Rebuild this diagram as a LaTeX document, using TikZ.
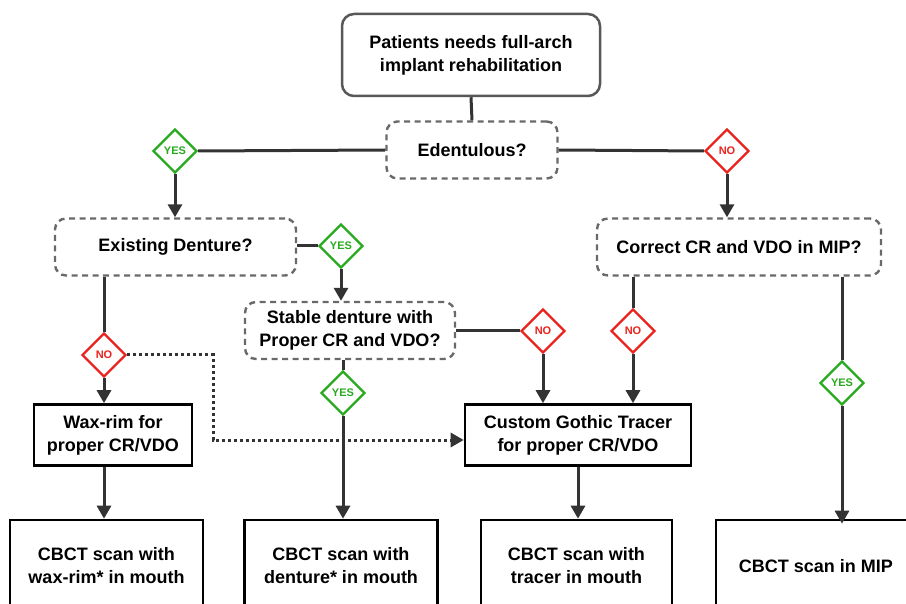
\documentclass[tikz,border=0pt]{standalone}
\usepackage{fontspec}
\setmainfont{Liberation Sans}
\usetikzlibrary{arrows.meta, shapes.geometric, positioning}
\definecolor{linegray}{RGB}{51,51,51}
\definecolor{boxgray}{RGB}{88,88,88}
\definecolor{dashgray}{RGB}{105,105,105}
\definecolor{yesgreen}{RGB}{40,170,30}
\definecolor{nored}{RGB}{235,35,30}

\begin{document}
\begin{tikzpicture}[x=1pt, y=-1pt,
  txt/.style={font=\bfseries\fontsize{18}{23}\selectfont, align=center},
  startbox/.style={txt, draw=boxgray, line width=2.5pt, rounded corners=12pt, minimum width=258pt, minimum height=82pt},
  question/.style={txt, draw=dashgray, line width=2.4pt, dash pattern=on 6pt off 4.5pt, rounded corners=11pt, minimum height=57pt},
  stepbox/.style={txt, draw=black, line width=2.6pt, minimum height=61pt},
  scanbox/.style={txt, draw=black, line width=2.6pt, minimum width=193pt, minimum height=92pt},
  choice/.style={diamond, aspect=1, inner sep=0pt, minimum width=44pt, minimum height=44pt, fill=white, line width=2.2pt, font=\bfseries\fontsize{11}{12}\selectfont},
  yes/.style={choice, draw=yesgreen, text=yesgreen},
  no/.style={choice, draw=nored, text=nored},
  link/.style={draw=linegray, line width=3pt},
  flow/.style={link, -{Triangle[length=13pt, width=14pt]}},
  shortcut/.style={flow, dash pattern=on 3pt off 3pt},
]
\clip (0,0) rectangle (906,604);

% Start and first question
\node[startbox] (start) at (471,55) {Patients needs full-arch\\implant rehabilitation};
\node[question, minimum width=171pt] (edent) at (472,150) {Edentulous?};

% Second level questions
\node[question, minimum width=241pt] (exist) at (175.5,247) {Existing Denture?};
\node[question, minimum width=284pt] (correct) at (739,247) {Correct CR and VDO in MIP?};
\node[question, minimum width=210pt] (stable) at (350,330.5) {Stable denture with\\Proper CR and VDO?};

% Records
\node[stepbox, minimum width=158pt] (waxrim) at (113,435) {Wax-rim for\\proper CR/VDO};
\node[stepbox, minimum width=226pt] (tracer) at (578,435) {Custom Gothic Tracer\\for proper CR/VDO};

% CBCT scans (bottom row)
\node[scanbox] (scanwax) at (106.5,566) {CBCT scan with\\wax-rim* in mouth};
\node[scanbox] (scandent) at (341,566) {CBCT scan with\\denture* in mouth};
\node[scanbox, minimum width=191pt] (scantrc) at (576.5,566) {CBCT scan with\\tracer in mouth};
\node[scanbox, minimum width=200pt] (scanmip) at (816,566) {CBCT scan in MIP};

% Decisions
\node[yes] (yesEd) at (175,151) {YES};
\node[no] (noEd) at (727,151) {NO};
\node[yes] (yesEx) at (341,246) {YES};
\node[no] (noEx) at (104,355) {NO};
\node[no] (noSt) at (543,331) {NO};
\node[no] (noCo) at (633,331) {NO};
\node[yes] (yesSt) at (343,393) {YES};
\node[yes] (yesCo) at (842,383) {YES};

% Connectors
\draw[link] (start.south) -- (edent.north);
\draw[link] (edent.west) -- (yesEd.east);
\draw[link] (edent.east) -- (noEd.west);
\draw[flow] (yesEd.south) -- (exist.north -| yesEd);
\draw[flow] (noEd.south) -- (correct.north -| noEd);

\draw[link] (exist.east |- yesEx) -- (yesEx.west);
\draw[flow] (yesEx.south) -- (stable.north -| yesEx);
\draw[link] (exist.south -| noEx) -- (noEx.north);
\draw[flow] (noEx.south) -- (waxrim.north -| noEx);
\draw[shortcut] (noEx.east) -- (213,355) -- (213,440) -- (tracer.west |- 0,440);

\draw[link] (stable.east |- noSt) -- (noSt.west);
\draw[flow] (noSt.south) -- (tracer.north -| noSt);
\draw[link] (stable.south -| yesSt) -- (yesSt.north);
\draw[flow] (yesSt.south) -- (scandent.north -| yesSt);

\draw[link] (correct.south -| noCo) -- (noCo.north);
\draw[flow] (noCo.south) -- (tracer.north -| noCo);
\draw[link] (correct.south -| yesCo) -- (yesCo.north);
\draw[flow] (yesCo.south) -- ([yshift=-5pt]scanmip.north -| yesCo);

\draw[flow] (waxrim.south -| noEx) -- (scanwax.north -| noEx);
\draw[flow] (tracer.south) -- (scantrc.north -| tracer);
\end{tikzpicture}
\end{document}
